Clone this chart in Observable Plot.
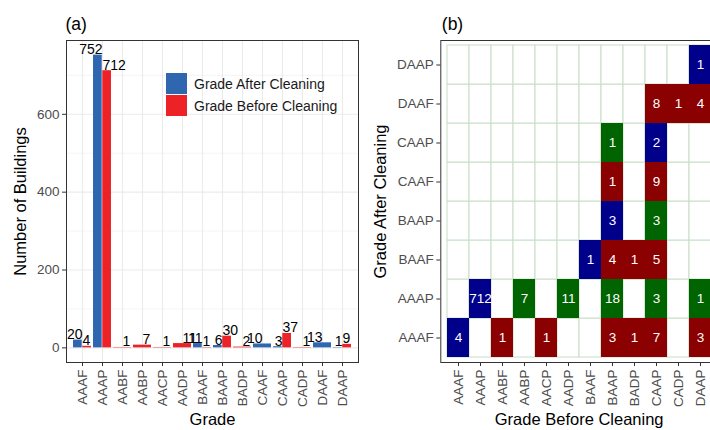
<!DOCTYPE html>
<html>
<head>
<meta charset="utf-8">
<script src="https://cdn.jsdelivr.net/npm/d3@7"></script>
<script src="https://cdn.jsdelivr.net/npm/@observablehq/plot@0.6"></script>
<style>
  html, body { margin: 0; padding: 0; background: #fff; }
  #root { position: relative; width: 710px; height: 430px; overflow: hidden; background: #fff; }
  #root > * { position: absolute; }
</style>
</head>
<body>
<div id="root"></div>
<script>
// ---------- Data: panel (a) ----------
const grades = ["AAAF","AAAP","AABF","AABP","AACP","AADP","BAAF","BAAP","BADP","CAAF","CAAP","CADP","DAAF","DAAP"];
const afterCounts  = [20, 752, null, null, null, null, 11, 6, null, 10, 3, null, 13, 1];
const beforeCounts = [4, 712, 1, 7, 1, 11, 1, 30, 2, null, 37, 1, null, 9];
const seriesNames = ["Grade After Cleaning", "Grade Before Cleaning"];
const seriesColors = ["#2E66B0", "#EC2227"];
const yTicks = [0, 200, 400, 600];
const yMinorTicks = [100, 300, 500, 700];

// ---------- Data: panel (b) ----------
const beforeGrades = ["AAAF","AAAP","AABF","AABP","AACP","AADP","BAAF","BAAP","BADP","CAAP","CADP","DAAP"];
const afterGrades  = ["AAAF","AAAP","BAAF","BAAP","CAAF","CAAP","DAAF","DAAP"];
const transAfter  = ["AAAF","AAAF","AAAF","AAAF","AAAF","AAAF","AAAF",
                     "AAAP","AAAP","AAAP","AAAP","AAAP","AAAP",
                     "BAAF","BAAF","BAAF","BAAF",
                     "BAAP","BAAP",
                     "CAAF","CAAF",
                     "CAAP","CAAP",
                     "DAAF","DAAF","DAAF",
                     "DAAP"];
const transBefore = ["AAAF","AABF","AACP","BAAP","BADP","CAAP","DAAP",
                     "AAAP","AABP","AADP","BAAP","CAAP","DAAP",
                     "BAAF","BAAP","BADP","CAAP",
                     "BAAP","CAAP",
                     "BAAP","CAAP",
                     "BAAP","CAAP",
                     "CAAP","CADP","DAAP",
                     "DAAP"];
const transCount  = [4,1,1,3,1,7,3,
                     712,7,11,18,3,1,
                     1,4,1,5,
                     3,3,
                     1,9,
                     1,2,
                     8,1,4,
                     1];
const transStatus = ["same","worse","worse","worse","worse","worse","worse",
                     "same","better","better","better","better","better",
                     "same","worse","worse","worse",
                     "same","better",
                     "worse","worse",
                     "better","same",
                     "worse","worse","worse",
                     "same"];
const statusNames  = ["same","better","worse"];
const statusColors = ["#00008B","#006400","#8B0000"];

// ---------- Build tables ----------
const barRows = [];
grades.forEach((g, i) => {
  const a = afterCounts[i], b = beforeCounts[i];
  const paired = a != null && b != null;
  if (a != null) barRows.push({grade: g, value: a, series: seriesNames[0], slot: paired ? "left" : "full"});
  if (b != null) barRows.push({grade: g, value: b, series: seriesNames[1], slot: paired ? "right" : "full"});
});
const transitions = transAfter.map((a, i) => ({after: a, before: transBefore[i], count: transCount[i], status: transStatus[i]}));

const FONT = "'Liberation Sans', Arial, Helvetica, sans-serif";
const TICK_GRAY = "#4D4D4D";

// ---------- Panel (a) ----------
const wA = 371, mLA = 66, mRA = 13;
const stepA = (wA - mLA - mRA) / (grades.length + 0.2);
const edge = stepA * 0.05, half = stepA * 0.5;
const colorOf = s => seriesColors[seriesNames.indexOf(s)];

function barsFor(slot, insetLeft, insetRight) {
  return seriesNames.map(s => Plot.barY(barRows.filter(d => d.slot === slot && d.series === s), {
    x: "grade", y: "value", fill: colorOf(s), insetLeft, insetRight
  }));
}
function labelsFor(series, textAnchor) {
  return Plot.text(barRows.filter(d => d.series === series), {
    x: "grade", y: "value", text: d => String(d.value), textAnchor, dy: -1,
    lineAnchor: "bottom", fontSize: 14, fill: "black", clip: true
  });
}

const plotA = Plot.plot({
  width: wA, height: 430,
  marginTop: 40, marginRight: mRA, marginBottom: 68, marginLeft: mLA,
  style: {fontFamily: FONT, fontSize: "13.5px", background: "white", color: "black", overflow: "visible"},
  x: {type: "band", domain: grades, paddingInner: 0, paddingOuter: 0.1},
  y: {domain: [-37.6, 789.6]},
  marks: [
    Plot.ruleY(yMinorTicks, {stroke: "#EEEEEE", strokeWidth: 0.6}),
    Plot.gridY({ticks: yTicks, stroke: "#EBEBEB", strokeOpacity: 1, strokeWidth: 1.1}),
    Plot.gridX({stroke: "#EBEBEB", strokeOpacity: 1, strokeWidth: 1.1}),
    ...barsFor("full", edge, edge),
    ...barsFor("left", edge, half),
    ...barsFor("right", half, edge),
    labelsFor(seriesNames[0], "end"),
    labelsFor(seriesNames[1], "start"),
    Plot.frame({stroke: "#333333", strokeWidth: 1}),
    Plot.axisY({ticks: yTicks, tickSize: 4, tickPadding: 3, label: null, fontSize: 13.5, stroke: "#333333", fill: TICK_GRAY}),
    Plot.axisX({tickRotate: -90, tickSize: 4, tickPadding: 3, label: null, fontSize: 13.5, stroke: "#333333", fill: TICK_GRAY}),
    Plot.text(["Number of Buildings"], {text: d => d, frameAnchor: "left", textAnchor: "middle", lineAnchor: "middle", rotate: -90, dx: -46, fontSize: 16.5, fill: "black"}),
    Plot.text(["Grade"], {text: d => d, frameAnchor: "bottom", textAnchor: "middle", lineAnchor: "middle", dy: 57, fontSize: 16.5, fill: "black"}),
    Plot.text(["(a)"], {text: d => d, frameAnchor: "top-left", textAnchor: "start", lineAnchor: "middle", dx: -1, dy: -16.5, fontSize: 17.5, fill: "black"})
  ]
});
plotA.style.left = "0px";
plotA.style.top = "0px";

const legend = Plot.legend({
  color: {type: "ordinal", domain: seriesNames, range: seriesColors},
  legend: "swatches", columns: 1, swatchSize: 21,
  style: {fontFamily: FONT, fontSize: "14px", color: "#1a1a1a", background: "transparent"}
});
legend.style.left = "166px";
legend.style.top = "73px";

// ---------- Panel (b) ----------
const leftB = 370;
const plotB = Plot.plot({
  width: 360, height: 430,
  marginTop: 40, marginRight: 13, marginBottom: 68, marginLeft: 70.3,
  style: {fontFamily: FONT, fontSize: "13.5px", background: "white", color: "black", overflow: "visible"},
  x: {type: "band", domain: beforeGrades, paddingInner: 0, paddingOuter: 0.1},
  y: {type: "band", domain: afterGrades.slice().reverse(), paddingInner: 0, paddingOuter: 0.1},
  color: {domain: statusNames, range: statusColors},
  marks: [
    Plot.cell(d3.cross(beforeGrades, afterGrades), {x: d => d[0], y: d => d[1], fill: "white", stroke: "#C8DEC8", strokeWidth: 1, inset: 0}),
    Plot.cell(transitions, {x: "before", y: "after", fill: "status", inset: 0}),
    Plot.text(transitions, {x: "before", y: "after", text: d => String(d.count), fill: "white", fontSize: 13.5}),
    Plot.frame({stroke: "#333333", strokeWidth: 1}),
    Plot.axisY({tickSize: 4, tickPadding: 3, label: null, fontSize: 13.5, stroke: "#333333", fill: TICK_GRAY}),
    Plot.axisX({tickRotate: -90, tickSize: 4, tickPadding: 3, label: null, fontSize: 13.5, stroke: "#333333", fill: TICK_GRAY}),
    Plot.text(["Grade After Cleaning"], {text: d => d, frameAnchor: "left", textAnchor: "middle", lineAnchor: "middle", rotate: -90, dx: -60, fontSize: 16.5, fill: "black"}),
    Plot.text(["Grade Before Cleaning"], {text: d => d, frameAnchor: "bottom", textAnchor: "middle", lineAnchor: "middle", dy: 57, fontSize: 16.5, fill: "black"}),
    Plot.text(["(b)"], {text: d => d, frameAnchor: "top-left", textAnchor: "start", lineAnchor: "middle", dx: 1, dy: -16.5, fontSize: 17.5, fill: "black"})
  ]
});
plotB.style.left = leftB + "px";
plotB.style.top = "0px";

const root = document.getElementById("root");
root.appendChild(plotA);
root.appendChild(plotB);
root.appendChild(legend);
</script>
</body>
</html>
